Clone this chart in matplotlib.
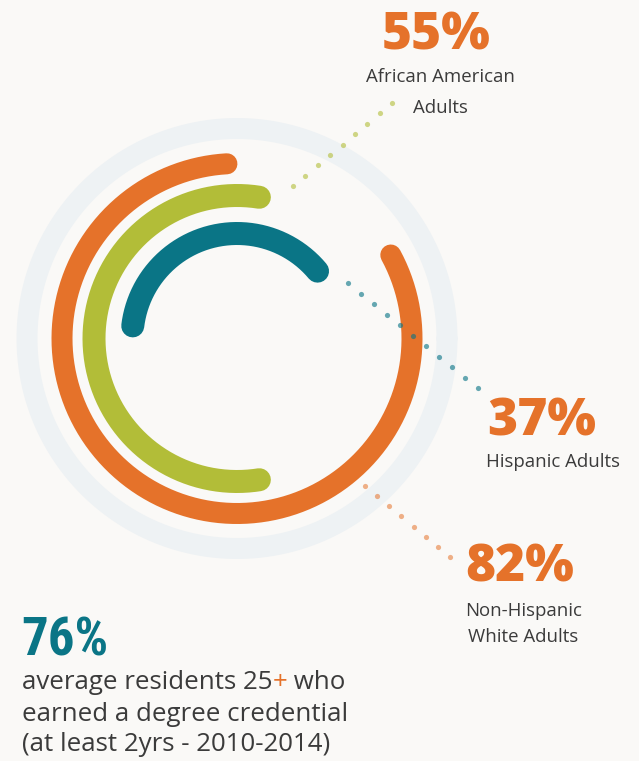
import numpy as np
import matplotlib
matplotlib.use("Agg")
import matplotlib.pyplot as plt
from matplotlib import font_manager

# ---- data ----
groups = ["African American Adults", "Hispanic Adults", "Non-Hispanic White Adults"]
group_pct = [55, 37, 82]
average_pct = 76
pct_labels = ["55%", "37%", "82%"]
group_lines = [["African American", "Adults"], ["Hispanic Adults"], ["Non-Hispanic", "White Adults"]]
avg_label = "76%"
avg_text = ["average residents 25", "+", " who", "earned a degree credential", "(at least 2yrs - 2010-2014)"]

# ---- style ----
BG = "#FAF9F7"
ORANGE = "#E5722A"
GREEN = "#B2BD38"
TEAL = "#0A7586"
RING = "#EEF2F4"
TXT = "#3B3B3B"
FONT = ["Open Sans", "DejaVu Sans"]

# pick a condensed bold face for the "76%" if one is installed
installed = {f.name for f in font_manager.fontManager.ttflist}
narrow_kw = dict(family=["Open Sans", "DejaVu Sans"])
for cand in ["Liberation Sans Narrow", "Roboto Condensed", "Open Sans Condensed", "Roboto"]:
    if cand in installed:
        narrow_kw = dict(family=[cand, "DejaVu Sans"])
        break

W, H = 639, 761
fig = plt.figure(figsize=(W / 100, H / 100), dpi=100, facecolor=BG)
ax = fig.add_axes([0, 0, 1, 1])
ax.set_xlim(0, W)
ax.set_ylim(H, 0)
ax.set_aspect("equal")
ax.axis("off")
ax.set_facecolor(BG)

cx, cy = 237, 338.5
PX = 0.72  # px -> pt


def arc(r, theta_start, span, color, width_px, z=2):
    t = np.radians(np.linspace(theta_start, theta_start + span, 400))
    ax.plot(cx + r * np.cos(t), cy - r * np.sin(t), color=color, lw=width_px * PX,
            solid_capstyle="round", zorder=z)


# background ring
arc(210, 0, 360, RING, 21, z=1)

arc_specs = {
    "Non-Hispanic White Adults": dict(r=175, start=93.3, color=ORANGE, w=21),
    "African American Adults": dict(r=143, mid=180, color=GREEN, w=23),
    "Hispanic Adults": dict(r=105, mid=106.5, color=TEAL, w=23),
}
for g, v in zip(groups, group_pct):
    s = arc_specs[g]
    span = v / 100 * 360
    start = s["start"] if "start" in s else s["mid"] - span / 2
    arc(s["r"], start, span, s["color"], s["w"])

# dotted leaders
leaders = [((293, 186), (392, 103), 9, GREEN, 0.6),
           ((348, 283), (478, 388), 11, TEAL, 0.62),
           ((365, 486), (450, 557), 8, ORANGE, 0.55)]
for (x0, y0), (x1, y1), n, c, a in leaders:
    xs = np.linspace(x0, x1, n)
    ys = np.linspace(y0, y1, n)
    ax.scatter(xs, ys, s=14, color=c, alpha=a, linewidths=0, zorder=5)

# group labels
big = dict(family=FONT, fontsize=37, fontweight=800, color=ORANGE, va="baseline")
small = dict(family=FONT, fontsize=13.4, color=TXT, va="baseline")

ax.text(436.5, 50, pct_labels[0], ha="center", **big)
ax.text(440.5, 82, group_lines[0][0], ha="center", **small)
ax.text(440.5, 113, group_lines[0][1], ha="center", **small)

ax.text(487, 435, pct_labels[1], ha="left", **big)
ax.text(486, 467, group_lines[1][0], ha="left", **small)

ax.text(520, 582, pct_labels[2], ha="center", **big)
ax.text(523.5, 616, group_lines[2][0], ha="center", **small)
ax.text(523.5, 642, group_lines[2][1], ha="center", **small)

# average block
ax.text(21, 655, avg_label, fontsize=38, fontweight="bold", color=TEAL,
        ha="left", va="baseline", **narrow_kw)
FS = 18.6
body = dict(family=FONT, fontsize=FS, color=TXT, va="baseline")
t1 = ax.text(22, 689, avg_text[0], ha="left", **body)
t2 = ax.annotate(avg_text[1], xy=(1, 0), xycoords=t1, ha="left", va="bottom",
                 family=FONT, fontsize=FS, color=ORANGE)
ax.annotate(avg_text[2], xy=(1, 0), xycoords=t2, ha="left", va="bottom",
            family=FONT, fontsize=FS, color=TXT)
ax.text(22, 721, avg_text[3], ha="left", **body)
ax.text(22, 751, avg_text[4], ha="left", **body)

fig.savefig("out.png", dpi=100, facecolor=BG)
